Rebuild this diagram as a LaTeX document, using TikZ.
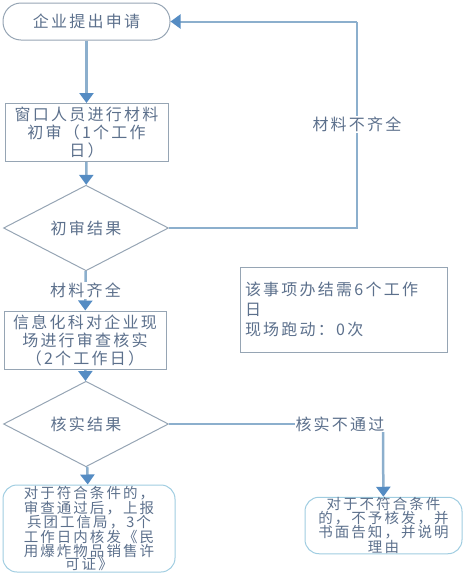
\documentclass[tikz,border=0pt]{standalone}
\usepackage{fontspec}
\setmainfont[LetterSpace=14]{Noto Sans CJK SC}
\usetikzlibrary{shapes.geometric,arrows.meta}
\definecolor{txt}{RGB}{92,112,140}
\definecolor{ln}{RGB}{140,175,205}
\definecolor{tip}{RGB}{85,140,195}
\definecolor{bd}{RGB}{150,165,180}
\definecolor{lbd}{RGB}{160,205,225}
\tikzset{
  every node/.style={text=txt,font=\fontsize{16}{18}\selectfont},
  term/.style={draw=bd,line width=1pt,rounded corners=18pt,minimum width=167pt,minimum height=37pt,inner sep=0pt},
  box/.style={draw=bd,line width=1pt,minimum width=163pt,minimum height=58pt,inner sep=0pt,align=center,text width=162pt},
  dec/.style={draw=bd,line width=1pt,diamond,minimum width=165pt,minimum height=55pt,inner sep=0pt},
  fin/.style={draw=lbd,line width=1pt,rounded corners=14pt,inner sep=0pt,align=center,font=\fontsize{14.5}{13.6}\selectfont},
  info/.style={draw=bd,line width=1pt,minimum width=207pt,minimum height=85pt,inner sep=0pt,align=left,text width=197pt,font=\fontsize{16}{20}\selectfont},
  flow/.style={draw=ln,line width=2.5pt,-{Triangle[width=14pt,length=10pt,color=tip]}},
  loop/.style={draw=ln,line width=2pt},
  lab/.style={fill=white,inner sep=1pt}
}
\begin{document}
\begin{tikzpicture}[x=1pt,y=-1pt]
\useasboundingbox (0,0) rectangle (469,574);
\node[term] (start) at (86.5,21.5) {企业提出申请};
\node[box] (b1) at (86.5,132.5) {窗口人员进行材料\\初审（1个工作\\日）};
\node[dec] (d1) at (86,228) {初审结果};
\node[box,minimum width=160pt] (b2) at (85,340) {信息化科对企业现\\场进行审查核实\\（2个工作日）};
\node[dec] (d2) at (86,424) {核实结果};
\node[fin,minimum width=172pt,minimum height=87pt,text width=170pt] (lb) at (89,528.5) {对于符合条件的，\\审查通过后，上报\\兵团工信局，3个\\工作日内核发《民\\用爆炸物品销售许\\可证》};
\node[fin,minimum width=157pt,minimum height=55pt,text width=156pt] (rb) at (383.5,525.5) {对于不符合条件\\的，不予核发，并\\书面告知，并说明\\理由};
\node[info] (inf) at (343.5,309.5) {该事项办结需6个工作\\日\\现场跑动：0次};
\coordinate (c1) at (357,228);
\coordinate (c2) at (357,21.5);
\coordinate (c3) at (383,424);
\draw[flow] (start) -- (b1);
\draw[flow] (b1) -- (d1);
\draw[flow] (d1) -- node[lab]{材料齐全} (b2);
\draw[flow] (b2) -- (d2);
\draw[flow] (d2) -- (lb);
\draw[loop] (d1.east) -- (c1) -- node[lab]{材料不齐全} (c2);
\draw[flow,line width=2pt] (c2) -- (start.east);
\draw[loop] (d2.east) -- (c3);
\draw[flow] (c3) -- (rb);
\node[lab] at (340,424) {核实不通过};
\end{tikzpicture}
\end{document}
